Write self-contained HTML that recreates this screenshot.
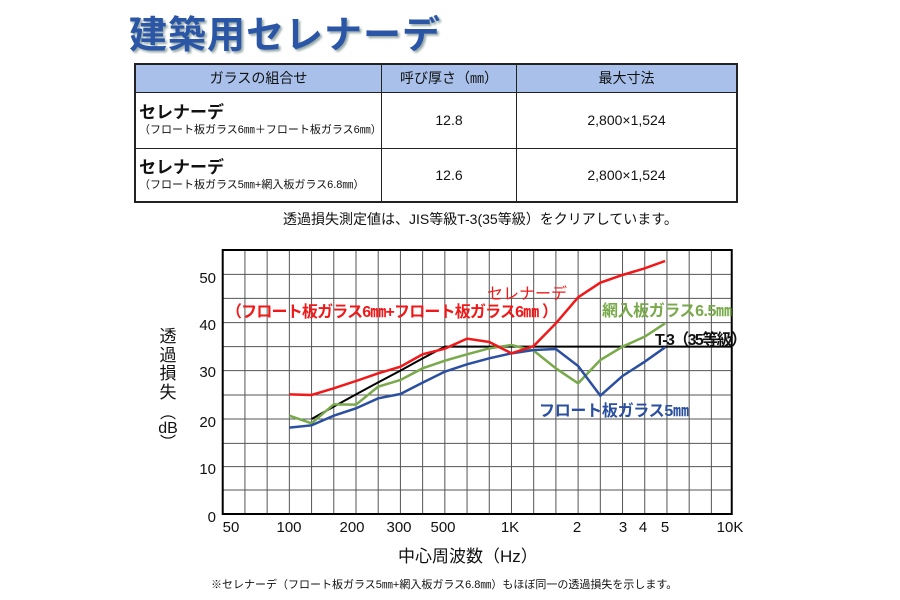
<!DOCTYPE html>
<html><head><meta charset="utf-8"><style>
body{margin:0;width:900px;height:600px;background:#fff;position:relative;overflow:hidden;font-family:"Liberation Sans","Noto Sans CJK JP",sans-serif;}
.a{position:absolute;white-space:nowrap;}
table{position:absolute;left:134px;top:63px;width:604px;border-collapse:collapse;border:2px solid #222;}
td{border:1px solid #222;font-size:14px;color:#111;}
</style></head><body>
<div class="a" style="left:129px;top:4px;font-size:38px;font-weight:bold;color:#2b56a6;letter-spacing:1px;text-shadow:2px 2px 2px #9aa;">建築用セレナーデ</div>
<table>
<tr style="height:28px;background:#a8c0ea;"><td style="width:243px;text-align:center;">ガラスの組合せ</td><td style="width:132px;text-align:center;">呼び厚さ（㎜）</td><td style="text-align:center;">最大寸法</td></tr>
<tr style="height:56px;"><td style="padding-left:3px;"><div style="font-size:17px;font-weight:bold;line-height:20px;">セレナーデ</div><div style="font-size:11px;line-height:14px;">（フロート板ガラス6㎜＋フロート板ガラス6㎜）</div></td><td style="text-align:center;">12.8</td><td style="text-align:center;">2,800×1,524</td></tr>
<tr style="height:54px;"><td style="padding-left:3px;"><div style="font-size:17px;font-weight:bold;line-height:20px;">セレナーデ</div><div style="font-size:11px;line-height:14px;">（フロート板ガラス5㎜+網入板ガラス6.8㎜）</div></td><td style="text-align:center;">12.6</td><td style="text-align:center;">2,800×1,524</td></tr>
</table>
<div class="a" style="left:283px;top:209px;font-size:14px;color:#111;">透過損失測定値は、JIS等級T-3(35等級）をクリアしています。</div>

<svg class="a" style="left:0;top:0" width="900" height="600">
<g transform="translate(189.4,240) scale(0.3702,0.333333)" fill="none">
<g stroke="#555" stroke-width="1">
<path vector-effect="non-scaling-stroke" d="M150 30V822M210 30V822M270 30V822M330 30V822M390 30V822M450 30V822M510 30V822M570 30V822M630 30V822M690 30V822M750 30V822M810 30V822M870 30V822M930 30V822M990 30V822M1050 30V822M1110 30V822M1170 30V822M1230 30V822M1290 30V822M1350 30V822M1410 30V822"/>
<path vector-effect="non-scaling-stroke" d="M90 103H1465M90 175H1465M90 248H1465M90 320H1465M90 392H1465M90 465H1465M90 537H1465M90 610H1465M90 680H1465M90 750H1465"/>
</g>
<rect x="90" y="30" width="1375" height="792" stroke="#000" stroke-width="2" vector-effect="non-scaling-stroke"/>
<polyline vector-effect="non-scaling-stroke" stroke="#000" stroke-width="2" points="330,537 390,500 450,463 510,427 570,392 630,355 690,320 1465,320"/>
<polyline vector-effect="non-scaling-stroke" stroke="#78a94a" stroke-width="2.5" points="270,527 330,550 390,493 450,494 510,440 570,420 630,385 690,362 750,343 810,325 870,315 930,332 990,385 1050,430 1110,360 1170,320 1230,290 1285,250"/>
<polyline vector-effect="non-scaling-stroke" stroke="#2a4fa0" stroke-width="2.5" points="270,563 330,556 390,527 450,505 510,475 570,462 630,428 690,395 750,373 810,355 870,340 930,330 990,327 1050,378 1110,467 1170,408 1230,365 1285,322"/>
<polyline vector-effect="non-scaling-stroke" stroke="#f01818" stroke-width="2.5" points="270,463 330,465 390,445 450,423 510,400 570,380 630,343 690,326 750,296 810,306 870,340 930,318 990,250 1050,172 1110,128 1170,105 1230,85 1285,63"/>
</g>
<g font-size="15" fill="#111" text-anchor="end" font-family="Liberation Sans,sans-serif">
<text x="216" y="283">50</text><text x="216" y="330">40</text><text x="216" y="377">30</text><text x="216" y="427">20</text><text x="216" y="474">10</text><text x="216" y="522">0</text>
</g>
<g font-size="15" fill="#111" text-anchor="middle" font-family="Liberation Sans,sans-serif">
<text x="231" y="532">50</text><text x="289" y="532">100</text><text x="352" y="532">200</text><text x="399" y="532">300</text><text x="443" y="532">500</text><text x="510" y="532">1K</text><text x="577" y="532">2</text><text x="623" y="532">3</text><text x="643" y="532">4</text><text x="665" y="532">5</text><text x="730" y="532">10K</text>
</g>
<g font-weight="bold" font-size="16">
<text x="487" y="299" fill="#f01818" font-weight="normal" font-size="16">セレナーデ</text>
<text x="226" y="317" fill="#f01818" textLength="332">（フロート板ガラス6㎜+フロート板ガラス6㎜ ）</text>
<text x="602" y="316" fill="#78a94a" textLength="130">網入板ガラス6.5㎜</text>
<text x="655" y="345" fill="#111" textLength="92">T-3（35等級）</text>
<text x="539" y="416" fill="#2a4fa0" textLength="150">フロート板ガラス5㎜</text>
</g>
</svg>
<div class="a" style="left:159px;top:328px;width:18px;font-size:17px;line-height:18.5px;text-align:center;color:#111;">透<br>過<br>損<br>失</div>
<div class="a" style="left:157px;top:406px;width:22px;font-size:16px;line-height:15px;text-align:center;color:#111;">︵<br>dB<br>︶</div>
<div class="a" style="left:398px;top:542px;font-size:17px;color:#111;">中心周波数（Hz）</div>
<div class="a" style="left:211px;top:576px;font-size:11px;color:#111;">※セレナーデ（フロート板ガラス5㎜+網入板ガラス6.8㎜）もほぼ同一の透過損失を示します。</div>
</body></html>
